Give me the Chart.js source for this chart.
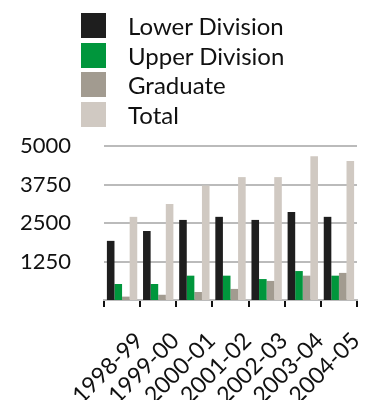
<!DOCTYPE html>
<html>
<head>
<meta charset="utf-8">
<script src="https://cdn.jsdelivr.net/npm/chart.js@4/dist/chart.umd.min.js"></script>
<style>
    html, body { margin: 0; padding: 0; background: #fff; }
    #wrap { position: relative; width: 365px; height: 400px; }
    #legend { position: absolute; left: 81px; top: 11px; font-family: Lato, sans-serif; font-size: 24px; color: #111; }
    .row { display: flex; align-items: center; height: 29.5px; }
    .box { width: 25px; height: 25px; margin-right: 22px; }
</style>
</head>
<body>
<div id="wrap">
    <canvas id="chart" width="365" height="400"></canvas>
    <div id="legend"></div>
</div>
<script>
// Data
const years = ['1998-99', '1999-00', '2000-01', '2001-02', '2002-03', '2003-04', '2004-05'];
const lowerDivision = [1920, 2240, 2600, 2700, 2600, 2860, 2700];
const upperDivision = [520, 520, 790, 790, 680, 940, 790];
const graduate = [110, 170, 260, 360, 620, 790, 880];
const total = [2700, 3120, 3720, 3990, 3990, 4670, 4510];
const yTicks = [1250, 2500, 3750, 5000];

// Colors
const colors = {
    lower: '#1e1e1e',
    upper: '#00963c',
    graduate: '#a29b90',
    total: '#d0c9c2'
};

const fontFamily = 'Lato, sans-serif';

const chart = new Chart(document.getElementById('chart'), {
    type: 'bar',
    data: {
        labels: years,
        datasets: [
            { label: 'Lower Division', data: lowerDivision, backgroundColor: colors.lower },
            { label: 'Upper Division', data: upperDivision, backgroundColor: colors.upper },
            { label: 'Graduate', data: graduate, backgroundColor: colors.graduate },
            { label: 'Total', data: total, backgroundColor: colors.total }
        ]
    },
    options: {
        responsive: false,
        animation: false,
        layout: { padding: { top: 146, left: 19, right: 8, bottom: 0 } },
        datasets: { bar: { categoryPercentage: 0.84, barPercentage: 1.0 } },
        plugins: {
            legend: { display: false },
            tooltip: { enabled: false }
        },
        scales: {
            x: {
                // labels may run off the left/bottom edge like in the original
                afterFit: scale => {
                    scale.height = 100;
                    scale.paddingLeft = 0;
                    scale.paddingRight = 0;
                },
                grid: { drawOnChartArea: false, drawTicks: true, tickLength: 7, color: '#111', lineWidth: 2 },
                border: { display: true, color: '#bbb', width: 2 },
                ticks: {
                    autoSkip: false, maxRotation: 45, minRotation: 45, padding: 20, labelOffset: 17,
                    color: '#111', font: { family: fontFamily, size: 23 }
                }
            },
            y: {
                min: 0, max: 5000,
                afterBuildTicks: axis => { axis.ticks = yTicks.map(v => ({ value: v })); },
                afterFit: scale => { scale.width = 85; },
                grid: { drawTicks: false, color: '#bbb', lineWidth: 2 },
                border: { display: false },
                ticks: {
                    padding: 33, color: '#111', font: { family: fontFamily, size: 22 },
                    callback: value => String(value)
                }
            }
        }
    }
});

// Build the vertical legend from the datasets
const legend = document.getElementById('legend');
chart.data.datasets.forEach(ds => {
    const row = document.createElement('div');
    row.className = 'row';
    const box = document.createElement('div');
    box.className = 'box';
    box.style.background = ds.backgroundColor;
    const text = document.createElement('span');
    text.textContent = ds.label;
    row.appendChild(box);
    row.appendChild(text);
    legend.appendChild(row);
});
</script>
</body>
</html>
